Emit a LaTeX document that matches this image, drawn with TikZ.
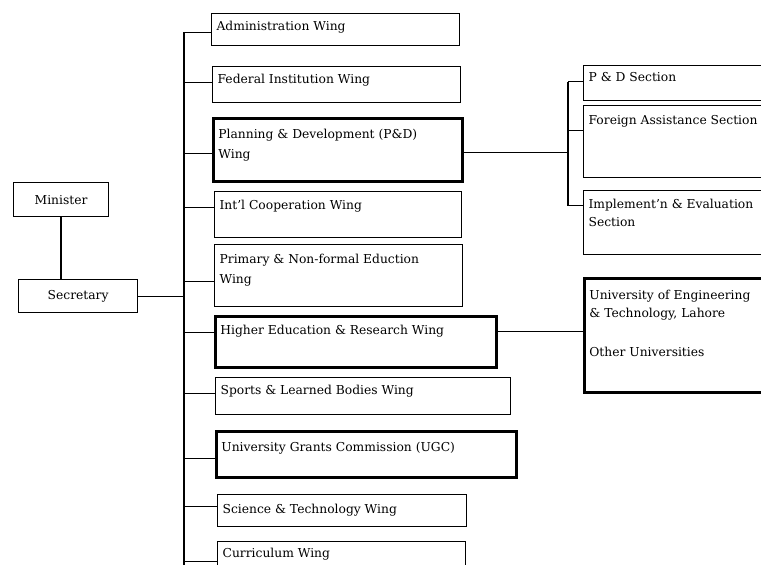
\documentclass[tikz,border=0pt]{standalone}
\usepackage{fontspec}
\setmainfont{DejaVu Serif}
\newcommand\ob[5]{\parbox[c][#2pt][t]{#1pt}{\raggedright\leftskip=5pt\baselineskip=#4pt\rule{0pt}{#3pt}#5\par}}
\newcommand\wc[2]{\draw[conn] ([yshift=-#2pt]#1.west -| ttop) -- ([yshift=-#2pt]#1.west);}
\begin{document}
\begin{tikzpicture}[x=1pt,y=-1pt,
  box/.style={draw, line width=1.2pt, inner sep=0pt, anchor=north west, font=\fontsize{12.3}{14}\selectfont},
  tbox/.style={box, line width=2.8pt},
  conn/.style={line width=1pt},
  trunkline/.style={line width=2pt},
  thickline/.style={line width=2.4pt}]
\useasboundingbox (0,0) rectangle (761,565);
\clip (0,0) rectangle (761,565);
\fill[white] (0,0) rectangle (761,565);
% left
\node[box, minimum width=95pt, minimum height=34pt] (min) at (13,182) {Minister};
\node[box, minimum width=119pt, minimum height=33pt] (sec) at (18,279) {Secretary};
% wings
\node[box] (admin) at (211,13) {\ob{248}{32}{17}{20}{Administration Wing}};
\node[box] (fed) at (212,66) {\ob{248}{36}{17}{20}{Federal Institution Wing}};
\node[tbox] (pd) at (212,117) {\ob{249}{63}{20}{20}{Planning \& Development (P\&D)\\Wing}};
\node[box] (intl) at (214,191) {\ob{247}{46}{18}{20}{Int'l Cooperation Wing}};
\node[box] (prim) at (214,244) {\ob{248}{62}{19}{20}{Primary \& Non-formal Eduction\\Wing}};
\node[tbox] (high) at (214,315) {\ob{281}{51}{18}{20}{Higher Education \& Research Wing}};
\node[box] (sport) at (215,377) {\ob{295}{37}{17}{20}{Sports \& Learned Bodies Wing}};
\node[tbox] (ugc) at (215,430) {\ob{300}{46}{20}{20}{University Grants Commission (UGC)}};
\node[box] (sci) at (217,494) {\ob{249}{32}{19}{20}{Science \& Technology Wing}};
\node[box] (curr) at (217,541) {\ob{248}{40}{16}{20}{Curriculum Wing}};
% sections
\node[box] (pdsec) at (583,65) {\ob{200}{35}{16}{18}{P \& D Section}};
\node[box] (fas) at (583,105) {\ob{200}{72}{19}{18}{Foreign Assistance Section}};
\node[box] (ies) at (583,190) {\ob{200}{64}{18}{18}{Implement'n \& Evaluation\\Section}};
\node[tbox] (uni) at (583,277) {\ob{200}{114}{21}{18}{University of Engineering\\\& Technology, Lahore\\[21pt]Other Universities}};
% trunk
\coordinate (ttop) at (184,32);
\coordinate (tbot) at (184,575);
\draw[trunkline] (ttop) -- (tbot);
\draw[thickline] (min.south) -- (min.south |- sec.north);
\draw[conn] (sec.east) -- (sec.east -| ttop);
\wc{admin}{3}
\wc{fed}{-2}
\wc{pd}{3.5}
\wc{intl}{-7}
\wc{prim}{6}
\wc{high}{-9.5}
\wc{sport}{-2.5}
\wc{ugc}{4}
\wc{sci}{-4}
\wc{curr}{0}
% P&D sub-tree
\coordinate (sub) at (568,151);
\draw[conn] ([yshift=-2.5pt]pd.east) -- ([yshift=-2.5pt]pd.east -| sub);
\draw[trunkline] ([yshift=1.5pt]pdsec.west -| sub) -- ([yshift=17pt]ies.west -| sub);
\draw[conn] ([yshift=1.5pt]pdsec.west -| sub) -- ([yshift=1.5pt]pdsec.west);
\draw[conn] ([yshift=11pt]fas.west -| sub) -- ([yshift=11pt]fas.west);
\draw[conn] ([yshift=17pt]ies.west -| sub) -- ([yshift=17pt]ies.west);
% universities
\draw[conn] ([yshift=4pt]uni.west -| high.east) -- ([yshift=4pt]uni.west);
\end{tikzpicture}
\end{document}
